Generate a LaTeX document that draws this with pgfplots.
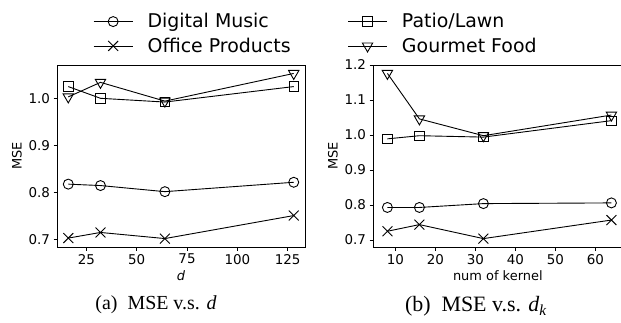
\documentclass[border=0pt]{standalone}
\usepackage{fontspec}
\setmainfont{DejaVu Sans}
\newfontfamily\capfont{Liberation Serif}
\usepackage{pgfplots}
\pgfplotsset{compat=1.18}
\pgfplotsset{
  mse/.style={
    scale only axis, height=182bp,
    axis line style={line width=0.8bp, black},
    tick align=outside, major tick length=3.5bp,
    tick style={line width=0.8bp, black},
    xtick pos=left, ytick pos=left,
    ticklabel style={font=\fontsize{13.5}{16}\selectfont},
    label style={font=\fontsize{13}{15}\selectfont},
    /pgf/number format/assume math mode=true,
    yticklabel style={/pgf/number format/fixed, /pgf/number format/fixed zerofill, /pgf/number format/precision=1},
    xticklabel style={/pgf/number format/fixed},
    ylabel={MSE},
    every axis plot/.append style={black, line width=0.9bp, mark options={solid, line width=0.9bp, fill=none}},
  },
  pc/.style={mark=o, mark size=5bp},
  px/.style={mark=x, mark size=7bp},
  ps/.style={mark=square, mark size=4.7bp},
  pt/.style={mark=triangle, mark size=6bp, mark options={rotate=180}},
}
\begin{document}
\begin{tikzpicture}[x=1bp,y=1bp]
\useasboundingbox (0,0) rectangle (621,322);
\begin{axis}[mse, at={(57bp,75bp)}, anchor=south west, width=248bp,
  xmin=10.4, xmax=133.6, ymin=0.684, ymax=1.072,
  xtick={25,50,75,100,125}, ytick={0.7,0.8,0.9,1.0},
  xlabel={\textit{d}},
  legend columns=2,
  legend cell align=left,
  legend image code/.code={\draw[mark repeat=2,mark phase=2,#1] plot coordinates {(0bp,0bp) (19.5bp,0bp) (39bp,0bp)};},
  legend style={at={(0.1452,1.294)}, anchor=north west, draw=none, fill=none, inner sep=0pt,
    font=\fontsize{19}{22}\selectfont,
    cells={inner sep=2bp, text height=14.3bp, text depth=4.8bp},
    row sep=4.6bp,
    /tikz/every odd column/.append style={column sep=12.5bp},
    /tikz/every even column/.append style={column sep=55bp}},
]
\addplot[pc] coordinates {(16,0.818) (32,0.815) (64,0.802) (128,0.822)};
\addlegendentry{Digital Music}
\addplot[ps] coordinates {(16,1.026) (32,1.001) (64,0.993) (128,1.026)};
\addlegendentry{Patio/Lawn}
\addplot[px] coordinates {(16,0.703) (32,0.715) (64,0.702) (128,0.751)};
\addlegendentry{Office Products}
\addplot[pt] coordinates {(16,1.004) (32,1.035) (64,0.995) (128,1.054)};
\addlegendentry{Gourmet Food}
\end{axis}
\begin{axis}[mse, at={(373bp,75bp)}, anchor=south west, width=249.6bp,
  xmin=4.4, xmax=66.8, ymin=0.680, ymax=1.200,
  xtick={10,20,30,40,50,60}, ytick={0.7,0.8,0.9,1.0,1.1,1.2},
  xlabel={num of kernel},
]
\addplot[pc] coordinates {(8,0.793) (16,0.793) (32,0.804) (64,0.806)};
\addplot[ps] coordinates {(8,0.989) (16,0.998) (32,0.994) (64,1.041)};
\addplot[px] coordinates {(8,0.725) (16,0.744) (32,0.704) (64,0.757)};
\addplot[pt] coordinates {(8,1.176) (16,1.046) (32,0.998) (64,1.057)};
\end{axis}
\node[anchor=base] at (156,13) {\capfont\fontsize{20}{24}\selectfont (a)\ \ MSE v.s. \textit{d}};
\node[anchor=base] at (476,10.5) {\capfont\fontsize{22}{26}\selectfont (b)\ \ MSE v.s. \textit{d}\textsubscript{\textit{k}}};
\end{tikzpicture}
\end{document}
